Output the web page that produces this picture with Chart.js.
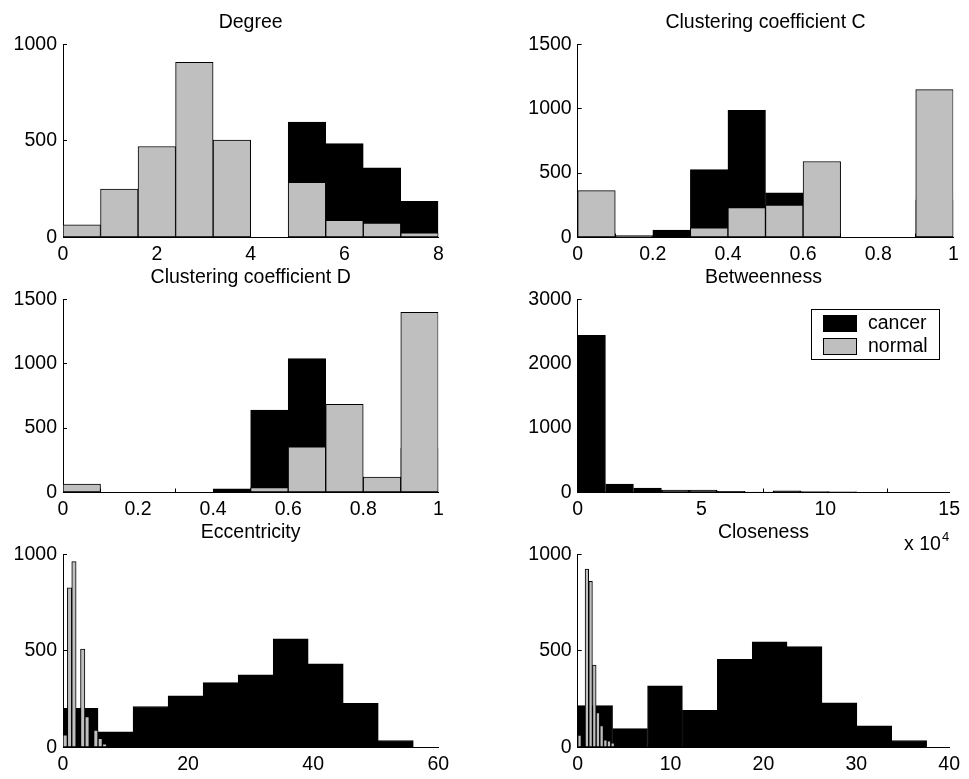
<!DOCTYPE html>
<html>
<head>
<meta charset="utf-8">
<title>Cancer vs normal network measures</title>
<script src="https://cdn.jsdelivr.net/npm/chart.js@4.4.1/dist/chart.umd.min.js"></script>
<style>
    body { margin: 0; background: #fff; }
    #wrap { position: relative; width: 969px; height: 779px; overflow: hidden; }
    canvas { position: absolute; }
</style>
</head>
<body>
<div id="wrap">
    <canvas id="degreeChart" width="480" height="300" style="left:0;top:0"></canvas>
    <canvas id="clusterCChart" width="489" height="300" style="left:480px;top:0"></canvas>
    <canvas id="clusterDChart" width="480" height="300" style="left:0;top:255px"></canvas>
    <canvas id="betweennessChart" width="489" height="300" style="left:480px;top:255px"></canvas>
    <canvas id="eccentricityChart" width="480" height="269" style="left:0;top:510px"></canvas>
    <canvas id="closenessChart" width="489" height="269" style="left:480px;top:510px"></canvas>
</div>
<script>
// Histogram data (bin centres + counts)
const degreeBins = [0.4, 1.2, 2.0, 2.8, 3.6, 4.4, 5.2, 6.0, 6.8, 7.6];
const degreeCancer = [0, 0, 0, 0, 0, 0, 598, 486, 361, 187];
const degreeNormal = [65, 251, 471, 907, 504, 0, 285, 89, 74, 24];
const degreeXTicks = [0, 2, 4, 6, 8];
const degreeYTicks = [0, 500, 1000];

const clusterCBins = [0.05, 0.15, 0.25, 0.35, 0.45, 0.55, 0.65, 0.75, 0.85, 0.95];
const clusterCCancer = [0, 15, 57, 527, 988, 347, 0, 0, 0, 292];
const clusterCNormal = [364, 5, 0, 75, 233, 251, 590, 0, 0, 1148];
const clusterCXTicks = [0, 0.2, 0.4, 0.6, 0.8, 1];
const clusterCYTicks = [0, 500, 1000, 1500];

const clusterDBins = [0.05, 0.15, 0.25, 0.35, 0.45, 0.55, 0.65, 0.75, 0.85, 0.95];
const clusterDCancer = [0, 0, 0, 0, 28, 640, 1039, 0, 0, 342];
const clusterDNormal = [65, 0, 0, 0, 0, 39, 355, 684, 119, 1399];
const clusterDXTicks = [0, 0.2, 0.4, 0.6, 0.8, 1];
const clusterDYTicks = [0, 500, 1000, 1500];

// betweenness x values are in units of 10^4
const betweennessBins = [0.56, 1.69, 2.82, 3.94, 5.07, 6.20, 7.33, 8.45, 9.58, 10.71];
const betweennessCancer = [2440, 130, 70, 36, 36, 20, 5, 25, 15, 10];
const betweennessNormalBins = [];
const betweennessNormal = [];
const betweennessXTicks = [0, 5, 10, 15];
const betweennessYTicks = [0, 1000, 2000, 3000];

const eccentricityCancerBins = [2.8, 8.4, 14.0, 19.6, 25.2, 30.8, 36.4, 42.0, 47.6, 53.2];
const eccentricityCancer = [203, 81, 212, 267, 336, 376, 562, 433, 229, 36];
const eccentricityNormalBins = [0.35, 1.05, 1.75, 2.45, 3.15, 3.85, 4.55, 5.25, 5.95, 6.65];
const eccentricityNormal = [66, 826, 962, 0, 509, 160, 0, 90, 48, 19];
const eccentricityXTicks = [0, 20, 40, 60];
const eccentricityYTicks = [0, 500, 1000];

const closenessCancerBins = [1.88, 5.64, 9.40, 13.15, 16.91, 20.67, 24.43, 28.19, 31.94, 35.70];
const closenessCancer = [217, 98, 319, 193, 457, 547, 522, 231, 112, 36];
const closenessNormalBins = [0.20, 0.60, 0.99, 1.39, 1.79, 2.18, 2.58, 2.98, 3.37, 3.77];
const closenessNormal = [64, 0, 924, 860, 426, 181, 114, 40, 35, 24];
const closenessXTicks = [0, 10, 20, 30, 40];
const closenessYTicks = [0, 500, 1000];

const FONT = '"Liberation Sans", Arial, Helvetica, sans-serif';
const FONT_SIZE = 19.5;
const CANCER_COLOR = '#000000';
const NORMAL_COLOR = '#bfbfbf';

function toPoints(bins, counts) {
    return bins.map((b, i) => ({ x: b, y: counts[i] }));
}

function fixedTicks(values) {
    return function(scale) {
        scale.ticks = values.map(v => ({ value: v }));
    };
}

function tickLabel(v) {
    return String(Math.round(v * 1000) / 1000);
}

// legend box drawn inside the plot, matlab style
const boxLegend = {
    id: 'boxLegend',
    afterDraw(chart) {
        const { ctx, chartArea } = chart;
        const w = 128, h = 50;
        const left = Math.round(chartArea.right - 10 - w);
        const top = Math.round(chartArea.top + 10);
        ctx.save();
        ctx.fillStyle = '#fff';
        ctx.fillRect(left, top, w, h);
        ctx.strokeStyle = '#000';
        ctx.lineWidth = 1;
        ctx.strokeRect(left + 0.5, top + 0.5, w, h);
        ctx.font = FONT_SIZE + 'px ' + FONT;
        ctx.textBaseline = 'middle';
        chart.data.datasets.forEach((ds, i) => {
            const rowY = top + 6 + i * 23;
            ctx.fillStyle = ds.backgroundColor;
            ctx.fillRect(left + 12, rowY, 34, 17);
            ctx.strokeRect(left + 12.5, rowY + 0.5, 33, 16);
            ctx.fillStyle = '#000';
            ctx.fillText(ds.label, left + 57, rowY + 8.5);
        });
        ctx.restore();
    }
};

// "x 10^4" multiplier under the right end of the x axis
const axisExponent = {
    id: 'axisExponent',
    afterDraw(chart) {
        const { ctx, chartArea } = chart;
        ctx.save();
        ctx.fillStyle = '#000';
        ctx.textAlign = 'right';
        ctx.textBaseline = 'alphabetic';
        ctx.font = '13px ' + FONT;
        ctx.fillText('4', chartArea.right, chartArea.bottom + 48);
        const w = ctx.measureText('4').width;
        ctx.font = FONT_SIZE + 'px ' + FONT;
        ctx.fillText('x 10', chartArea.right - w - 1, chartArea.bottom + 57);
        ctx.restore();
    }
};

function axisStyle() {
    return {
        grid: { drawOnChartArea: false, drawTicks: true, tickLength: -4, tickColor: '#000' },
        border: { display: true, color: '#000', width: 1 }
    };
}

function histogram(id, p) {
    const ctx = document.getElementById(id).getContext('2d');
    const canvasH = ctx.canvas.height;
    const tickFont = { family: FONT, size: FONT_SIZE };

    return new Chart(ctx, {
        type: 'bar',
        data: {
            datasets: [{
                label: 'cancer',
                data: toPoints(p.cancerBins, p.cancer),
                xAxisID: 'x',
                backgroundColor: CANCER_COLOR,
                borderColor: '#000',
                order: 2
            }, {
                label: 'normal',
                data: toPoints(p.normalBins, p.normal),
                xAxisID: 'xNormal',
                backgroundColor: NORMAL_COLOR,
                borderColor: '#000',
                order: 1
            }]
        },
        plugins: p.plugins || [],
        options: {
            responsive: false,
            animation: false,
            events: [],
            layout: { padding: { left: 0, right: p.padRight, top: 0, bottom: 0 } },
            datasets: {
                bar: {
                    barPercentage: 1,
                    categoryPercentage: 1,
                    grouped: false,
                    borderWidth: 1,
                    borderSkipped: false
                }
            },
            plugins: {
                legend: { display: false },
                tooltip: { enabled: false },
                title: {
                    display: true,
                    fullSize: false,
                    text: p.title,
                    color: '#000',
                    font: { family: FONT, size: FONT_SIZE, weight: 'normal' },
                    padding: { top: 10.5, bottom: 10.4 }
                }
            },
            scales: {
                x: Object.assign(axisStyle(), {
                    type: 'linear',
                    position: 'bottom',
                    offset: false,
                    min: 0,
                    max: p.xTicks[p.xTicks.length - 1],
                    afterBuildTicks: fixedTicks(p.xTicks),
                    afterFit: s => { s.height = canvasH - 237.5; },
                    ticks: { color: '#000', font: tickFont, padding: 9, maxRotation: 0, autoSkip: false, callback: tickLabel }
                }),
                xNormal: {
                    type: 'linear',
                    position: 'bottom',
                    display: false,
                    offset: false,
                    grid: { offset: false },
                    min: 0,
                    max: p.xTicks[p.xTicks.length - 1],
                    afterBuildTicks: fixedTicks([0, p.xTicks[p.xTicks.length - 1]])
                },
                y: Object.assign(axisStyle(), {
                    type: 'linear',
                    min: 0,
                    max: p.yTicks[p.yTicks.length - 1],
                    afterBuildTicks: fixedTicks(p.yTicks),
                    afterFit: s => { s.width = p.axisLeft; },
                    ticks: { color: '#000', font: tickFont, padding: 10, callback: tickLabel }
                })
            }
        }
    });
}

document.addEventListener('DOMContentLoaded', function() {
    const leftCol = { axisLeft: 63, padRight: 41.7 };
    const rightCol = { axisLeft: 97.7, padRight: 15.7 };

    histogram('degreeChart', Object.assign({
        title: 'Degree',
        cancerBins: degreeBins, cancer: degreeCancer,
        normalBins: degreeBins, normal: degreeNormal,
        xTicks: degreeXTicks, yTicks: degreeYTicks
    }, leftCol));

    histogram('clusterCChart', Object.assign({
        title: 'Clustering coefficient C',
        cancerBins: clusterCBins, cancer: clusterCCancer,
        normalBins: clusterCBins, normal: clusterCNormal,
        xTicks: clusterCXTicks, yTicks: clusterCYTicks
    }, rightCol));

    histogram('clusterDChart', Object.assign({
        title: 'Clustering coefficient D',
        cancerBins: clusterDBins, cancer: clusterDCancer,
        normalBins: clusterDBins, normal: clusterDNormal,
        xTicks: clusterDXTicks, yTicks: clusterDYTicks
    }, leftCol));

    histogram('betweennessChart', Object.assign({
        title: 'Betweenness',
        cancerBins: betweennessBins, cancer: betweennessCancer,
        normalBins: betweennessNormalBins, normal: betweennessNormal,
        xTicks: betweennessXTicks, yTicks: betweennessYTicks,
        plugins: [boxLegend, axisExponent]
    }, rightCol));

    histogram('eccentricityChart', Object.assign({
        title: 'Eccentricity',
        cancerBins: eccentricityCancerBins, cancer: eccentricityCancer,
        normalBins: eccentricityNormalBins, normal: eccentricityNormal,
        xTicks: eccentricityXTicks, yTicks: eccentricityYTicks
    }, leftCol));

    histogram('closenessChart', Object.assign({
        title: 'Closeness',
        cancerBins: closenessCancerBins, cancer: closenessCancer,
        normalBins: closenessNormalBins, normal: closenessNormal,
        xTicks: closenessXTicks, yTicks: closenessYTicks
    }, rightCol));
});
</script>
</body>
</html>
